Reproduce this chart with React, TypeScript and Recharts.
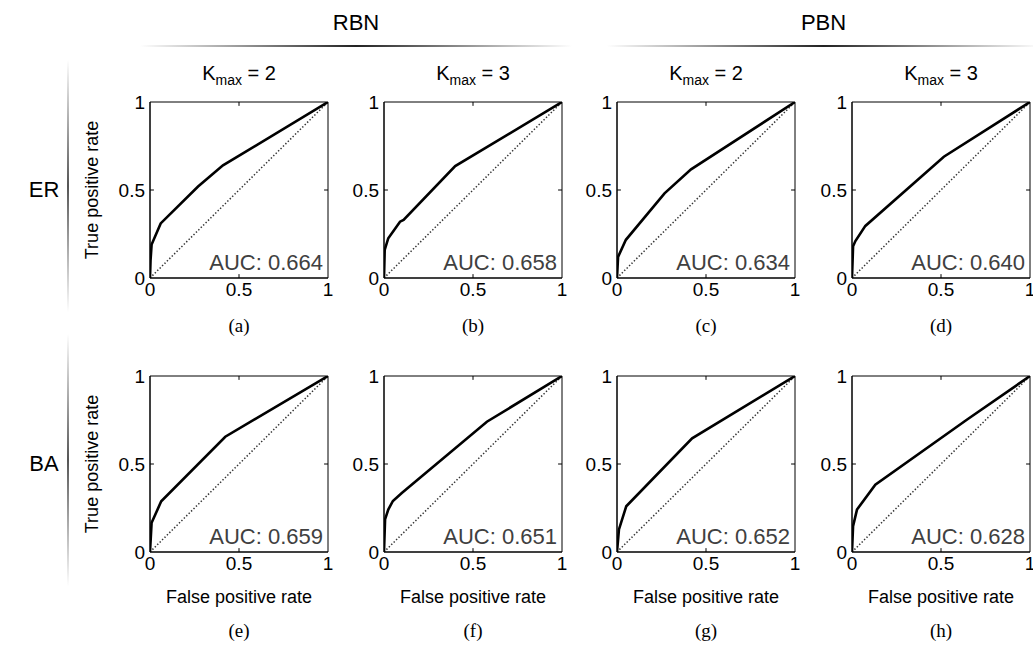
import React from 'react'
import { LineChart, Line, XAxis, YAxis, ReferenceArea, ReferenceLine } from 'recharts'

const groupLabels = ['RBN', 'PBN']
const rowLabels = ['ER', 'BA']
const kmaxValues = [2, 3, 2, 3]
const panelLetters = ['(a)', '(b)', '(c)', '(d)', '(e)', '(f)', '(g)', '(h)']
const aucLabels = ['AUC: 0.664', 'AUC: 0.658', 'AUC: 0.634', 'AUC: 0.640', 'AUC: 0.659', 'AUC: 0.651', 'AUC: 0.652', 'AUC: 0.628']
const axisTicks = [0, 0.5, 1]

// ROC curves (false positive rate / true positive rate)
const fprA = [0, 0.003, 0.009, 0.06, 0.27, 0.41, 1]
const tprA = [0, 0.1, 0.19, 0.31, 0.52, 0.64, 1]
const fprB = [0, 0.004, 0.024, 0.09, 0.11, 0.4, 1]
const tprB = [0, 0.16, 0.226, 0.32, 0.33, 0.636, 1]
const fprC = [0, 0.006, 0.05, 0.267, 0.416, 1]
const tprC = [0, 0.12, 0.217, 0.481, 0.617, 1]
const fprD = [0, 0.006, 0.019, 0.075, 0.516, 1]
const tprD = [0, 0.18, 0.21, 0.296, 0.689, 1]
const fprE = [0, 0.009, 0.063, 0.423, 1]
const tprE = [0, 0.166, 0.288, 0.655, 1]
const fprF = [0, 0.006, 0.024, 0.05, 0.1, 0.578, 1]
const tprF = [0, 0.185, 0.241, 0.29, 0.335, 0.74, 1]
const fprG = [0, 0.011, 0.052, 0.422, 1]
const tprG = [0, 0.128, 0.26, 0.646, 1]
const fprH = [0, 0.006, 0.028, 0.131, 0.647, 1]
const tprH = [0, 0.147, 0.241, 0.382, 0.753, 1]
const diagFpr = [0, 1]
const diagTpr = [0, 1]

const curves = [
    [fprA, tprA], [fprB, tprB], [fprC, tprC], [fprD, tprD],
    [fprE, tprE], [fprF, tprF], [fprG, tprG], [fprH, tprH],
]

const toPoints = (xs: number[], ys: number[]) => xs.map((x, i) => ({ x, y: ys[i] }))
const diagonal = toPoints(diagFpr, diagTpr)

const sans = '"Liberation Sans", Arial, sans-serif'
const boxLeft = [150, 384, 617, 852]
const boxTop = [102, 376]
const boxW = 178
const boxH = 176
const padL = 50
const padT = 10
const padR = 10
const padB = 30
const tickLen = 0.022 // inward tick length, in axis units

const fmt = (v: number) => (v === 0.5 ? '0.5' : String(v))

function RocPanel({ idx }: { idx: number }) {
    const col = idx % 4
    const row = Math.floor(idx / 4)
    const [xs, ys] = curves[idx]
    const tickStyle = { fill: '#000', fontSize: 19, fontFamily: sans }
    return (
        <div style={{ position: 'absolute', left: boxLeft[col] - padL, top: boxTop[row] - padT }}>
            <LineChart width={padL + boxW + padR} height={padT + boxH + padB} margin={{ top: padT, right: padR, bottom: 0, left: 0 }}>
                <XAxis type="number" dataKey="x" domain={[0, 1]} ticks={axisTicks} interval={0} allowDataOverflow
                    height={padB} tickLine={false} tickSize={0} tickMargin={5} tickFormatter={fmt} tick={tickStyle}
                    axisLine={{ stroke: '#000' }} />
                <YAxis type="number" domain={[0, 1]} ticks={axisTicks} interval={0} allowDataOverflow
                    width={padL} tickLine={false} tickSize={0} tickMargin={5} tickFormatter={fmt} tick={tickStyle}
                    axisLine={{ stroke: '#000' }} />
                <ReferenceArea x1={0} x2={1} y1={0} y2={1} fill="none" fillOpacity={0} stroke="#000" strokeWidth={1} />
                {axisTicks.slice(1, 2).map((t) => (
                    <React.Fragment key={t}>
                        <ReferenceLine segment={[{ x: t, y: 0 }, { x: t, y: tickLen }]} stroke="#000" />
                        <ReferenceLine segment={[{ x: t, y: 1 }, { x: t, y: 1 - tickLen }]} stroke="#000" />
                        <ReferenceLine segment={[{ x: 0, y: t }, { x: tickLen, y: t }]} stroke="#000" />
                        <ReferenceLine segment={[{ x: 1, y: t }, { x: 1 - tickLen, y: t }]} stroke="#000" />
                    </React.Fragment>
                ))}
                <Line data={diagonal} dataKey="y" type="linear" stroke="#333" strokeWidth={1.5} strokeDasharray="1.4 2"
                    dot={false} activeDot={false} isAnimationActive={false} />
                <Line data={toPoints(xs, ys)} dataKey="y" type="linear" stroke="#000" strokeWidth={2.6}
                    dot={false} activeDot={false} isAnimationActive={false} />
            </LineChart>
        </div>
    )
}

function Centered({ x, y, children, style }: { x: number; y: number; children: React.ReactNode; style?: React.CSSProperties }) {
    return (
        <div style={{ position: 'absolute', left: x, top: y, transform: 'translate(-50%, -50%)', whiteSpace: 'nowrap', lineHeight: 1, ...style }}>
            {children}
        </div>
    )
}

export default function App() {
    return (
        <div style={{ position: 'absolute', left: 0, top: 0, width: 1033, height: 645, overflow: 'hidden', background: '#fff', fontFamily: sans }}>
            {groupLabels.map((g, i) => {
                const l = boxLeft[i * 2]
                const r = boxLeft[i * 2 + 1] + boxW
                return (
                    <React.Fragment key={g}>
                        <Centered x={(l + r) / 2} y={23} style={{ fontSize: 22 }}>{g}</Centered>
                        <div style={{ position: 'absolute', left: l - 10, top: 45, width: r - l + 20, height: 2,
                            background: 'linear-gradient(to right, rgba(0,0,0,0), #222 50%, rgba(0,0,0,0))' }} />
                    </React.Fragment>
                )
            })}
            {rowLabels.map((r, i) => (
                <React.Fragment key={r}>
                    <Centered x={44} y={boxTop[i] + boxH / 2} style={{ fontSize: 22 }}>{r}</Centered>
                    <div style={{ position: 'absolute', left: 67, top: boxTop[i] - 42, width: 2, height: 252,
                        background: 'linear-gradient(to bottom, rgba(0,0,0,0), #555 50%, rgba(0,0,0,0))' }} />
                    <Centered x={92} y={boxTop[i] + boxH / 2} style={{ fontSize: 18, transform: 'translate(-50%, -50%) rotate(-90deg)' }}>
                        True positive rate
                    </Centered>
                </React.Fragment>
            ))}
            {kmaxValues.map((k, i) => (
                <Centered key={i} x={boxLeft[i] + boxW / 2} y={75} style={{ fontSize: 20 }}>
                    K<sub style={{ fontSize: 14, verticalAlign: '-0.3em' }}>max</sub> = {k}
                </Centered>
            ))}
            {panelLetters.map((_, i) => <RocPanel key={i} idx={i} />)}
            {aucLabels.map((a, i) => {
                const col = i % 4
                const row = Math.floor(i / 4)
                return (
                    <div key={a} style={{ position: 'absolute', right: 1033 - (boxLeft[col] + boxW - 5), top: boxTop[row] + boxH - 26,
                        fontSize: 22, color: '#404040', lineHeight: 1, whiteSpace: 'nowrap' }}>{a}</div>
                )
            })}
            {boxLeft.map((l, i) => (
                <Centered key={i} x={l + boxW / 2} y={597} style={{ fontSize: 18 }}>False positive rate</Centered>
            ))}
            {panelLetters.map((p, i) => {
                const col = i % 4
                const row = Math.floor(i / 4)
                return (
                    <Centered key={p} x={boxLeft[col] + boxW / 2} y={row === 0 ? 325 : 630}
                        style={{ fontSize: 19, fontFamily: '"Liberation Serif", "Times New Roman", serif' }}>{p}</Centered>
                )
            })}
        </div>
    )
}
